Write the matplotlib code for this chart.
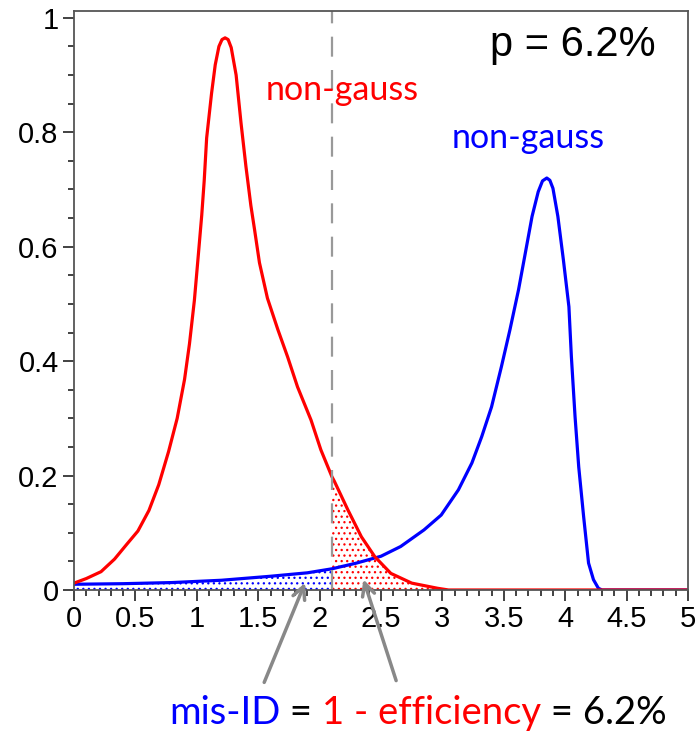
import matplotlib
matplotlib.use('Agg')
import matplotlib.pyplot as plt
import numpy as np
from matplotlib.ticker import MultipleLocator, FormatStrFormatter
from matplotlib.offsetbox import TextArea, HPacker, AnnotationBbox

# values
red_x = [0.0, 0.1, 0.22, 0.33, 0.43, 0.52, 0.61, 0.69, 0.77, 0.84, 0.90, 0.94, 0.98,
         1.01, 1.04, 1.06, 1.08, 1.12, 1.15, 1.18, 1.205, 1.23, 1.255, 1.28, 1.32, 1.36,
         1.40, 1.44, 1.47, 1.51, 1.575, 1.66, 1.74, 1.82, 1.93, 2.01, 2.1, 2.12, 2.23,
         2.34, 2.45, 2.58, 2.75, 2.96, 3.05, 5.0]
red_y = [0.012, 0.02, 0.032, 0.054, 0.08, 0.103, 0.139, 0.184, 0.242, 0.30, 0.368, 0.43, 0.506,
         0.58, 0.655, 0.715, 0.79, 0.868, 0.918, 0.950, 0.962, 0.965, 0.962, 0.948, 0.90,
         0.816, 0.74, 0.672, 0.63, 0.572, 0.51, 0.455, 0.407, 0.355, 0.297, 0.245, 0.198,
         0.19, 0.14, 0.093, 0.058, 0.029, 0.012, 0.003, 0.0, 0.0]

blue_x = [0.0, 0.4, 0.8, 1.2, 1.6, 1.9, 2.1, 2.3, 2.5, 2.66, 2.85, 2.99, 3.13, 3.24, 3.32,
          3.40, 3.48, 3.55, 3.62, 3.67, 3.73, 3.78, 3.815, 3.85, 3.875, 3.90, 3.94, 3.985,
          4.03, 4.05, 4.08, 4.11, 4.15, 4.19, 4.23, 4.27, 4.3, 5.0]
blue_y = [0.010, 0.011, 0.013, 0.017, 0.024, 0.030, 0.037, 0.047, 0.059, 0.076, 0.105, 0.131,
          0.175, 0.222, 0.268, 0.32, 0.39, 0.455, 0.525, 0.583, 0.653, 0.696, 0.715, 0.72,
          0.716, 0.702, 0.653, 0.577, 0.495, 0.408, 0.303, 0.215, 0.128, 0.047, 0.018, 0.003,
          0.0, 0.0]

cut = 2.1
p_value = '6.2%'

red_x = np.array(red_x)
red_y = np.array(red_y)
blue_x = np.array(blue_x)
blue_y = np.array(blue_y)

plt.rcParams['hatch.linewidth'] = 0.9

fig = plt.figure(figsize=(6.99, 7.35), dpi=100)
ax = fig.add_axes([0.1059, 0.1973, 0.8784, 0.7878])

# shaded tails
ax.fill_between(blue_x, 0, blue_y, where=blue_x <= cut, facecolor='none',
                edgecolor='blue', hatch='...', linewidth=0)
ax.fill_between(red_x, 0, red_y, where=red_x >= cut, facecolor='none',
                edgecolor='red', hatch='...', linewidth=0)

ax.plot(blue_x, blue_y, color='blue', lw=2.3)
ax.plot(red_x, red_y, color='red', lw=2.3)
ax.axvline(cut, color='#999999', lw=1.6, dashes=(9, 6))

ax.set_xlim(0, 5)
ax.set_ylim(0, 1.012)

ax.xaxis.set_major_locator(MultipleLocator(0.5))
ax.xaxis.set_minor_locator(MultipleLocator(0.1))
ax.yaxis.set_major_locator(MultipleLocator(0.2))
ax.yaxis.set_minor_locator(MultipleLocator(0.05))
ax.xaxis.set_major_formatter(FormatStrFormatter('%g'))
ax.yaxis.set_major_formatter(FormatStrFormatter('%g'))
ax.tick_params(which='both', direction='out', top=False, right=False, width=1.2,
               labelsize=21, color='#222222')
ax.tick_params(which='major', length=8, pad=3)
ax.tick_params(which='minor', length=4.5)
for lab in ax.get_xticklabels() + ax.get_yticklabels():
    lab.set_family('Liberation Sans')
for s in ax.spines.values():
    s.set_color('#555555')
    s.set_linewidth(1.3)

ax.text(4.06, 0.953, 'p = ' + p_value, fontsize=30, ha='center', va='center',
        family='Liberation Sans')
ax.text(2.18, 0.874, 'non-gauss', color='red', fontsize=24.5, ha='center', va='center',
        family='Lato')
ax.text(3.70, 0.79, 'non-gauss', color='blue', fontsize=24.5, ha='center', va='center',
        family='Lato')

# arrows to the shaded areas
arrow = dict(arrowstyle='->,head_length=0.9,head_width=0.45', color='#888888', lw=2.5)
ax.annotate('', xy=(1.89, 0.017), xytext=(1.54, -0.166), arrowprops=arrow,
            annotation_clip=False)
ax.annotate('', xy=(2.35, 0.023), xytext=(2.63, -0.163), arrowprops=arrow,
            annotation_clip=False)

# coloured caption
parts = [('mis-ID', 'blue'), (' = ', 'black'), ('1 - efficiency', 'red'),
         (' = ' + p_value, 'black')]
boxes = [TextArea(t, textprops=dict(color=c, fontsize=27.5, family='Lato')) for t, c in parts]
pack = HPacker(children=boxes, align='baseline', pad=0, sep=0)
ab = AnnotationBbox(pack, (0.598, 0.03), xycoords='figure fraction', frameon=False,
                    box_alignment=(0.5, 0.5))
fig.add_artist(ab)

fig.savefig('out.png', dpi=100)
